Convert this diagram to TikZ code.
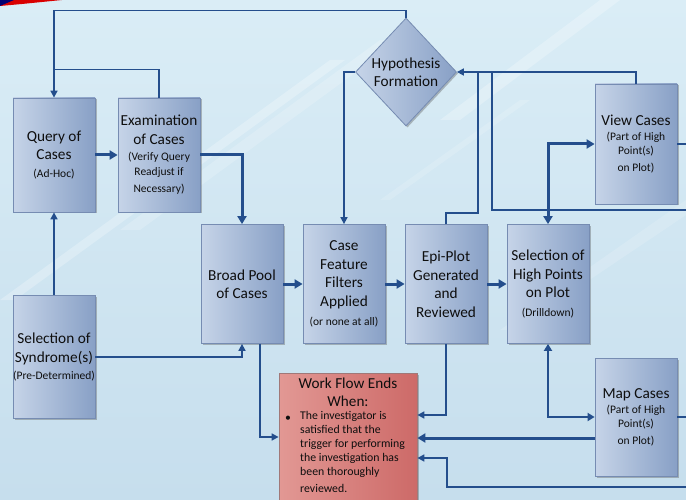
\documentclass[tikz,border=0pt]{standalone}
\usepackage{fontspec}
\setmainfont{Carlito}
\usetikzlibrary{arrows.meta,shapes.geometric,shadows}
\definecolor{bgA}{RGB}{218,237,246}
\definecolor{bgB}{RGB}{198,222,237}
\definecolor{boxL}{RGB}{198,212,232}
\definecolor{boxR}{RGB}{136,160,198}
\definecolor{boxD}{RGB}{118,140,178}
\definecolor{lncol}{RGB}{36,78,140}
\definecolor{wfL}{RGB}{226,152,148}
\definecolor{wfR}{RGB}{205,106,104}
\definecolor{wfD}{RGB}{160,120,120}
\definecolor{txt}{RGB}{14,14,14}
\newcommand\subt[1]{{\fontsize{11.5}{13}\selectfont #1}}
\tikzset{
  boxnode/.style={draw=boxD, line width=0.8pt, left color=boxL, right color=boxR,
    minimum width=82pt, inner sep=0pt, align=center, text=txt,
    font=\fontsize{15.3}{18.5}\selectfont,
    drop shadow={shadow xshift=1.5pt,shadow yshift=-1.5pt,opacity=0.35,fill=black!70}},
  flow/.style={draw=lncol, line width=1.6pt, -{Triangle[length=7pt,width=7pt]}},
  flowplain/.style={draw=lncol, line width=1.6pt},
  flowthick/.style={draw=lncol, line width=3pt, -{Triangle[length=8pt,width=9pt]}},
  flowmid/.style={draw=lncol, line width=2.2pt, {Triangle[length=7pt,width=8pt]}-{Triangle[length=7pt,width=8pt]}},
  flowdbl/.style={draw=lncol, line width=3pt, {Triangle[length=8pt,width=9pt]}-{Triangle[length=8pt,width=9pt]}},
}
\begin{document}
\begin{tikzpicture}[x=1pt,y=-1pt]
\useasboundingbox (0,0) rectangle (686,500);
\clip (0,0) rectangle (686,500);
% background
\shade[top color=bgA, bottom color=bgB] (0,0) rectangle (686,500);
\fill[white,opacity=0.25] (0,300) -- (330,60) -- (345,60) -- (15,300) -- cycle;
\fill[white,opacity=0.18] (120,230) -- (380,40) -- (400,40) -- (140,230) -- cycle;
\fill[white,opacity=0.25] (440,120) -- (600,0) -- (620,0) -- (460,120) -- cycle;
\fill[white,opacity=0.15] (380,200) -- (520,100) -- (530,100) -- (390,200) -- cycle;
\fill[white,opacity=0.15] (500,330) -- (686,200) -- (686,215) -- (515,330) -- cycle;
% top-left banner
\fill[red!85!black] (0,0) -- (62,0) -- (22,4) -- (0,6) -- cycle;
\fill[blue!45!black] (0,0) -- (14,0) -- (0,6) -- cycle;

% nodes
\node[boxnode, minimum height=114pt] (query) at (54,155) {Query of\\Cases\\[-1pt]\subt{(Ad-Hoc)}};
\node[boxnode, minimum height=114pt] (exam) at (159,155) {Examination\\of Cases\\[-2pt]\subt{(Verify Query}\\[-4pt]\subt{Readjust if}\\[-1pt]\subt{Necessary)}};
\node[boxnode, minimum height=123pt] (synd) at (54,357) {Selection of\\Syndrome(s)\\[-1pt]\subt{(Pre-Determined)}};
\node[boxnode, minimum height=119pt] (broad) at (242,284) {Broad Pool\\of Cases};
\node[boxnode, minimum height=119pt] (case) at (344,284) {Case\\Feature\\Filters\\Applied\\[1pt]\subt{(or none at all)}};
\node[boxnode, minimum height=119pt] (epi) at (446,284) {Epi-Plot\\Generated\\and\\Reviewed};
\node[boxnode, minimum height=119pt] (sel) at (548,284) {Selection of\\High Points\\on Plot\\[0pt]\subt{(Drilldown)}};
\node[boxnode, minimum height=120pt] (view) at (636,144) {View Cases\\[-3.5pt]\subt{(Part of High}\\[-4.5pt]\subt{Point(s)}\\[-1.5pt]\subt{on Plot)}};
\node[boxnode, minimum height=118pt] (map) at (636,417) {Map Cases\\[-3.5pt]\subt{(Part of High}\\[-4.5pt]\subt{Point(s)}\\[-1.5pt]\subt{on Plot)}};
\node[boxnode, shape=diamond, minimum width=101pt, minimum height=108pt] (hyp) at (406,72) {Hypothesis\\Formation};
\node[draw=wfD, line width=0.8pt, left color=wfL, right color=wfR, minimum width=138pt, minimum height=150pt, inner sep=0pt,
  drop shadow={shadow xshift=1.5pt,shadow yshift=-1.5pt,opacity=0.35,fill=black!70}] (wf) at (348,448) {};
\node[anchor=north, align=center, text=txt, font=\fontsize{15.2}{18}\selectfont, inner sep=0pt] (wft) at (348,378) {Work Flow Ends\\When:};
\node[text=txt, font=\fontsize{11.8}{14}\selectfont, inner sep=0pt] (wfb) at (288,419) {•};
\node[anchor=north west, align=left, text=txt, font=\fontsize{11.8}{14}\selectfont, inner sep=0pt] (wfl) at (300,411)
  {The investigator is\\satisfied that the\\trigger for performing\\the investigation has\\been thoroughly\\[3pt]reviewed.};

% edge coordinates
\coordinate (e1) at (686,210);
\coordinate (e2) at (686,487);

% connectors
\draw[flow] (hyp.north) -- ++(0,-7) -| (query.north);
\draw[flowplain] (exam.north) -- ++(0,-28) coordinate (j1) -- (j1 -| query.north);
\draw[flowthick] (query.east) -- (exam.west);
\draw[flowthick] (exam.east) -| (broad.north);
\draw[flow] (synd.north) -- (query.south);
\draw[flow] (synd.east) -| (broad.south);
\draw[flowthick] (broad.east) -- (case.west);
\draw[flowthick] (case.east) -- (epi.west);
\draw[flowthick] (epi.east) -- (sel.west);
\draw[flow] (hyp.west) -| (case.north);
\draw[flow] (view.north) |- (hyp.east);
\draw[flowplain] (epi.north) -- ++(0,-11) -| ([xshift=21pt]hyp.east);
\draw[flowplain] (e1) -| ([xshift=35pt]hyp.east);
\draw[flowdbl] (sel.north) |- (view.west);
\draw[flowmid] (sel.south) |- (map.west);
\draw[flow] (epi.south) |- (wf.east |- 0,415);
\draw[flowthick] (map.west |- 0,438) -- (wf.east |- 0,438);
\draw[flow] (e2) -| (447,458) -- (wf.east |- 0,458);
\draw[flow] ([xshift=18pt]broad.south) |- (wf.west |- 0,437);
\draw[flowplain] (view.east) -- (view.east -| e1);
\draw[flowplain] (map.east) -- (map.east -| e1);
\end{tikzpicture}
\end{document}
